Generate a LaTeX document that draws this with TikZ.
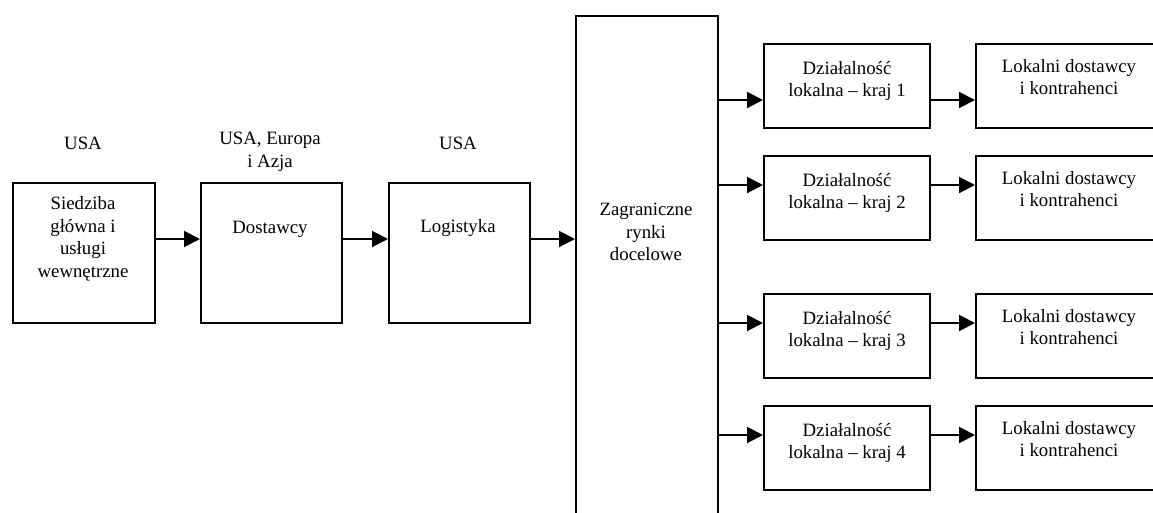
\documentclass[tikz,border=0pt]{standalone}
\usepackage{fontspec}
\setmainfont{Liberation Serif}
\usetikzlibrary{arrows.meta}
\begin{document}
\begin{tikzpicture}[x=1pt,y=-1pt,
  box/.style={draw=black,line width=2pt,rectangle,inner sep=0pt,anchor=north west},
  txt/.style={align=center,inner sep=0pt,font=\fontsize{18.8}{22.5}\selectfont},
  arr/.style={line width=2pt,-{Triangle[length=16pt,width=16pt]}}]
\useasboundingbox (0,0) rectangle (1153,512);
\clip (0,0) rectangle (1153,512);
% main chain
\node[box,minimum width=142pt,minimum height=140pt] (sied) at (12,182) {};
\node[box,minimum width=141pt,minimum height=140pt] (dost) at (200,182) {};
\node[box,minimum width=141pt,minimum height=140pt] (logi) at (388,182) {};
\node[box,minimum width=142pt,minimum height=520pt] (zagr) at (575,15) {};
% local operations and local suppliers
\foreach \i/\y in {1/43,2/155,3/293,4/405}{
  \node[box,minimum width=166pt,minimum height=84pt] (dz\i) at (763,\y) {};
  \node[box,minimum width=200pt,minimum height=84pt] (lk\i) at (975,\y) {};
  \node[txt] (dzt\i) at ([yshift=-38pt]dz\i.north) {Działalność\\lokalna – kraj \i};
  \node[txt,anchor=north] (lkt\i) at (1069,\y+16) {Lokalni dostawcy\\i kontrahenci};
}
% texts
\node[txt] (usa1) at (83,143) {USA};
\node[txt] (usa2) at (270,152) {USA, Europa\\i Azja};
\node[txt] (usa3) at (458,143) {USA};
\node[txt] (siedt) at (83,239) {Siedziba\\główna i\\usługi\\wewnętrzne};
\node[txt] (dostt) at (270,229) {Dostawcy};
\node[txt] (logit) at (458,228) {Logistyka};
\node[txt] (zagrt) at (646,232) {Zagraniczne\\rynki\\docelowe};
% connectors of the main chain
\coordinate (m1) at ([yshift=14pt]sied.east);
\coordinate (m2) at ([yshift=14pt]dost.east);
\coordinate (m3) at ([yshift=14pt]logi.east);
\draw[arr] (m1) -- (m1 -| dost.west);
\draw[arr] (m2) -- (m2 -| logi.west);
\draw[arr] (m3) -- (m3 -| zagr.west);
% connectors to the local boxes
\coordinate (p1) at ([yshift=-14pt]dz1.west);
\coordinate (p2) at ([yshift=13pt]dz2.west);
\coordinate (p3) at ([yshift=13pt]dz3.west);
\coordinate (p4) at ([yshift=13pt]dz4.west);
\foreach \i in {1,2,3,4}{
  \draw[arr] (p\i -| zagr.east) -- (p\i);
  \draw[arr] (p\i -| dz\i.east) -- (p\i -| lk\i.west);
}
\end{tikzpicture}
\end{document}
